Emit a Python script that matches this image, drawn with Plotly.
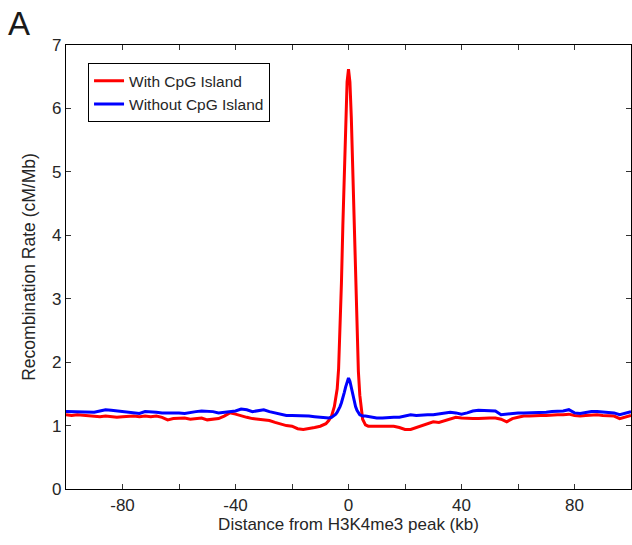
import plotly.graph_objects as go

distance_kb = [-100, -98, -96, -94, -92, -90, -88, -86, -84, -82, -80, -78, -76, -74, -72, -70,
               -68, -66, -64, -62, -60, -58, -56, -54, -52, -50, -48, -46, -44, -42, -40, -38,
               -36, -34, -32, -30, -28, -26, -24, -22, -20, -18, -16, -14, -12, -10, -8,
               -7, -6, -5, -4.5, -4, -3.5, -3, -2.5, -2, -1.5, -1, -0.5, 0, 0.5, 1, 1.5, 2,
               2.5, 3, 3.5, 4, 4.5, 5, 6, 7,
               8, 10, 12, 14, 16, 18, 20, 22, 24, 26, 28, 30, 32, 34, 36, 38, 40, 42, 44, 46,
               48, 50, 52, 54, 56, 58, 60, 62, 64, 66, 68, 70, 72, 74, 76, 78, 80, 82, 84, 86,
               88, 90, 92, 94, 96, 98, 100]

with_cpg = [1.17, 1.16, 1.17, 1.16, 1.15, 1.15, 1.14, 1.15, 1.14, 1.13, 1.14, 1.15, 1.15, 1.14, 1.15, 1.14,
            1.15, 1.13, 1.09, 1.11, 1.11, 1.12, 1.10, 1.11, 1.12, 1.09, 1.10, 1.11, 1.15, 1.20, 1.18, 1.15,
            1.13, 1.11, 1.10, 1.09, 1.08, 1.05, 1.02, 1.00, 0.99, 0.95, 0.94, 0.95, 0.97, 0.99, 1.03,
            1.08, 1.15, 1.30, 1.42, 1.58, 1.90, 2.45, 3.25, 4.15, 5.05, 5.85, 6.42, 6.62, 6.42, 5.85, 5.05, 4.15,
            3.25, 2.45, 1.85, 1.48, 1.25, 1.10, 1.01, 0.99,
            0.99, 0.99, 0.99, 0.98, 0.99, 0.97, 0.94, 0.94, 0.97, 1.00, 1.04, 1.06, 1.05, 1.08, 1.10, 1.13,
            1.12, 1.11, 1.11, 1.11, 1.12, 1.12, 1.12, 1.10, 1.06, 1.11, 1.13, 1.15, 1.15, 1.16, 1.16, 1.16,
            1.17, 1.17, 1.17, 1.18, 1.16, 1.15, 1.16, 1.17, 1.17, 1.16, 1.16, 1.15, 1.11, 1.13, 1.16]

without_cpg = [1.22, 1.22, 1.21, 1.22, 1.22, 1.21, 1.23, 1.25, 1.24, 1.23, 1.22, 1.22, 1.20, 1.19, 1.22, 1.22,
               1.21, 1.20, 1.20, 1.21, 1.20, 1.19, 1.21, 1.22, 1.23, 1.23, 1.22, 1.20, 1.21, 1.23, 1.23, 1.26,
               1.25, 1.22, 1.24, 1.25, 1.22, 1.20, 1.18, 1.16, 1.16, 1.16, 1.16, 1.15, 1.14, 1.13, 1.12,
               1.12, 1.13, 1.16, 1.18, 1.21, 1.25, 1.30, 1.36, 1.43, 1.52, 1.61, 1.70, 1.75, 1.70, 1.60, 1.48, 1.38,
               1.30, 1.24, 1.20, 1.17, 1.16, 1.15, 1.15, 1.14,
               1.14, 1.12, 1.12, 1.13, 1.13, 1.13, 1.15, 1.17, 1.16, 1.17, 1.17, 1.17, 1.18, 1.19, 1.21, 1.20,
               1.18, 1.20, 1.23, 1.24, 1.24, 1.24, 1.23, 1.17, 1.18, 1.20, 1.20, 1.20, 1.20, 1.20, 1.21, 1.21,
               1.22, 1.22, 1.23, 1.25, 1.20, 1.19, 1.21, 1.22, 1.22, 1.21, 1.21, 1.20, 1.17, 1.19, 1.22]

x_tick_vals = [-80, -60, -40, -20, 0, 20, 40, 60, 80]
x_tick_text = ["-80", "", "-40", "", "0", "", "40", "", "80"]
y_tick_vals = [0, 1, 2, 3, 4, 5, 6, 7]

FONT = "Liberation Sans, Arial, Helvetica, sans-serif"
TXT = "#262626"

fig = go.Figure()
fig.add_trace(go.Scatter(x=distance_kb, y=with_cpg, mode="lines", name="With CpG Island",
                         line=dict(color="#ff0000", width=3)))
fig.add_trace(go.Scatter(x=distance_kb, y=without_cpg, mode="lines", name="Without CpG Island",
                         line=dict(color="#0000ff", width=3)))

axis_common = dict(showline=True, linecolor="black", linewidth=1.2, mirror="ticks",
                   ticks="inside", ticklen=5, tickcolor="#333333", showgrid=False, zeroline=False,
                   automargin=False,
                   tickfont=dict(family=FONT, size=17, color=TXT))

fig.update_xaxes(range=[-100, 100], tickvals=x_tick_vals, ticktext=x_tick_text,
                 title=dict(text="Distance from H3K4me3 peak (kb)", font=dict(family=FONT, size=17, color=TXT),
                            standoff=4),
                 **axis_common)
fig.update_yaxes(range=[0, 7], tickvals=y_tick_vals,
                 title=dict(text="Recombination Rate (cM/Mb)", font=dict(family=FONT, size=17.5, color=TXT),
                            standoff=11),
                 **axis_common)

fig.update_layout(
    width=632, height=545,
    margin=dict(l=66, r=1, t=45, b=56),
    paper_bgcolor="white", plot_bgcolor="white",
    font=dict(family=FONT, color=TXT),
    showlegend=True,
    legend=dict(x=0.039, y=0.959, xanchor="left", yanchor="top",
                bgcolor="white", bordercolor="black", borderwidth=1,
                font=dict(family=FONT, size=15.5, color=TXT), itemwidth=30,
                tracegroupgap=0),
    annotations=[dict(text="A", xref="paper", yref="paper", x=-0.107, y=1.094,
                      xanchor="left", yanchor="top", showarrow=False,
                      font=dict(family=FONT, size=33, color="#1a1a1a"))],
)

fig.write_html("out.html", config={"displayModeBar": False},
               post_script="document.body.style.margin='0';document.body.style.overflow='hidden';")
